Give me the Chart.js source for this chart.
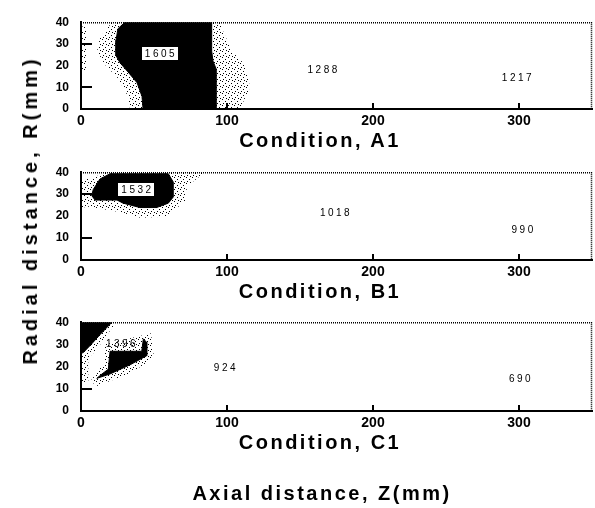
<!DOCTYPE html>
<html><head><meta charset="utf-8">
<script src="https://cdn.jsdelivr.net/npm/chart.js@4.4.1/dist/chart.umd.min.js"></script>
<style>
html,body{margin:0;padding:0;background:#fff}
body{width:595px;height:508px;position:relative;overflow:hidden;font-family:"Liberation Sans",Arial,sans-serif}
canvas{position:absolute;left:0}
.t{position:absolute;font-weight:bold;font-size:20px;line-height:20px;letter-spacing:2.5px;white-space:nowrap;color:#000;transform:translate(-50%,-50%)}
</style></head><body>
<canvas id="pA" width="595" height="156" style="top:3px"></canvas>
<canvas id="pB" width="595" height="157" style="top:153px"></canvas>
<canvas id="pC" width="595" height="158" style="top:303px"></canvas>
<script>
// ---- axes / text ----
const X_TICKS = [0, 100, 200, 300];
const Y_TICKS = [0, 10, 20, 30, 40];
const Y_INNER_TICKS = [10, 30];
const X_INNER_TICKS = [100, 200, 300];
const PANEL_TITLES = ['Condition, A1', 'Condition, B1', 'Condition, C1'];
const X_TITLE = 'Axial distance, Z(mm)';
const Y_TITLE = 'Radial distance, R(mm)';

// ---- Condition A1 (z, r) contour regions ----
const A1_CORE = [[30.1,40],[25.3,37],[24,31.7],[24,24.6],[26.7,21.3],[32.2,17.1],[38.4,12.1],[41.8,5.8],[42.5,0],[92.9,0],[92.8,12.1],[92.5,18.3],[90.4,22.1],[89.5,26.7],[89.5,40]];
const A1_HALO = [[21.2,40],[13,32.9],[11,26.7],[16.4,20.4],[25.3,14.2],[32.2,5.8],[33.6,0],[108.9,0],[115.8,10],[112.3,20.4],[103.4,26.7],[96.6,37],[95.2,40]];
const A1_EDGE = [[0,17],[4,17],[4,38],[0,38]];
const A1_VALUES = ['1605', '1288', '1217'];
const A1_VALUE_Z = [54.1, 165.5, 298.6];
const A1_VALUE_R = [25.6, 18.3, 14.2];

// ---- Condition B1 ----
const B1_CORE = [[13,36.9],[8.4,32.1],[7.3,29.4],[9.6,27.3],[24.7,27.3],[28.8,25.9],[40.4,23.9],[51.8,23.9],[59.8,25.9],[63.2,28.7],[63.2,35.5],[59.8,39.3],[19.9,39.3]];
const B1_HALO = [[15,40],[85,40],[72.7,33.6],[71.3,26.6],[57.7,19.7],[40.6,19.3],[27,21.7],[9.9,23.8],[2.4,24.6],[2.4,34.8],[9.9,37.7]];
const B1_EDGE = [[0,24],[5,24],[5,37],[0,37]];
const B1_VALUES = ['1532', '1018', '990'];
const B1_VALUE_Z = [38.0, 174.0, 302.5];
const B1_VALUE_R = [32.2, 21.3, 13.6];

// ---- Condition C1 ----
const C1_CORE_TOP = [[0,40],[21.2,40],[13,34.4],[7.4,30.3],[1.4,26.2],[0,26.2]];
const C1_CORE_MID = [[19.9,26.9],[41.6,26.9],[42.7,32.4],[45,31],[45,24.9],[33.6,20.8],[19.9,16.7],[10.8,14.7],[14.4,16.7],[18.7,18.8]];
const C1_HALO_TOP = [[0,40],[24,40],[10,27],[2,22],[0,22]];
const C1_HALO_MID = [[16,30],[48,35],[50,24],[34,17],[10,11],[7,14],[16,22]];
const C1_EDGE = [[0,13],[5,13],[5,28],[0,28]];
const C1_VALUES = ['1396', '924', '690'];
const C1_VALUE_Z = [27.4, 98.6, 300.7];
const C1_VALUE_R = [30.2, 19.7, 14.7];

// ---- stipple pattern (style) ----
const tile = document.createElement('canvas');
tile.width = 6; tile.height = 6;
const tctx = tile.getContext('2d');
tctx.fillStyle = '#000';
[[0,0],[3,2],[1,4],[4,5]].forEach(([a,b]) => tctx.fillRect(a,b,1,1));
const stipple = tctx.createPattern(tile, 'repeat');

const framePlugin = {
  id: 'frame',
  afterDatasetsDraw(chart, args, o) {
    const {ctx, chartArea: a, scales: {x, y}} = chart;
    ctx.save();
    // dotted top / right border
    ctx.strokeStyle = '#000'; ctx.lineWidth = 1.5; ctx.setLineDash([1, 1]);
    ctx.beginPath();
    ctx.moveTo(a.left, a.top + 0.5); ctx.lineTo(a.right, a.top + 0.5);
    ctx.moveTo(a.right - 0.5, a.top); ctx.lineTo(a.right - 0.5, a.bottom);
    ctx.stroke();
    ctx.setLineDash([]);
    // inward tick marks
    ctx.lineWidth = 2;
    ctx.beginPath();
    Y_INNER_TICKS.forEach(v => { const py = Math.round(y.getPixelForValue(v)); ctx.moveTo(a.left, py); ctx.lineTo(a.left + 11, py); });
    X_INNER_TICKS.forEach(v => { const px = Math.round(x.getPixelForValue(v)); ctx.moveTo(px, a.bottom); ctx.lineTo(px, a.bottom - 6); });
    ctx.stroke();
    // value labels
    ctx.font = '10px "Liberation Sans", Arial, sans-serif';
    try { ctx.letterSpacing = '2.5px'; } catch (e) {}
    ctx.textBaseline = 'middle';
    ctx.textAlign = 'left';
    o.values.forEach((t, i) => {
      const px = x.getPixelForValue(o.vz[i]), py = y.getPixelForValue(o.vr[i]);
      const w = ctx.measureText(t).width;
      if (o.boxed[i]) {
        ctx.fillStyle = '#fff';
        ctx.fillRect(Math.round(px - w / 2 - 3) + 0.5, Math.round(py - 7) + 0.5, Math.round(w + 5), 14);
        ctx.strokeStyle = '#000'; ctx.lineWidth = 1;
        ctx.strokeRect(Math.round(px - w / 2 - 3) + 0.5, Math.round(py - 7) + 0.5, Math.round(w + 5), 14);
      }
      ctx.fillStyle = '#000';
      ctx.fillText(t, px - w / 2 + 1, py + 0.5);
    });
    ctx.restore();
  }
};

const toPts = arr => arr.concat([arr[0]]).map(([x, y]) => ({x, y}));
const tickFont = (s) => ({family: '"Liberation Sans", Arial, sans-serif', size: s, weight: 'bold'});

function makePanel(id, cores, halos, values, vz, vr, boxed) {
  const datasets = [];
  cores.forEach(c => datasets.push({data: toPts(c), fill: 'shape', backgroundColor: '#000', borderColor: '#000', borderWidth: 1, pointRadius: 0, tension: 0}));
  halos.forEach(h => datasets.push({data: toPts(h), fill: 'shape', backgroundColor: stipple, borderColor: 'rgba(0,0,0,0)', borderWidth: 0, pointRadius: 0, tension: 0}));
  new Chart(document.getElementById(id), {
    type: 'line',
    data: {datasets},
    options: {
      responsive: false, animation: false, devicePixelRatio: 1,
      layout: {padding: {top: 10, right: 3, left: 0, bottom: 0}},
      plugins: {legend: {display: false}, tooltip: {enabled: false}, frame: {values, vz, vr, boxed}},
      scales: {
        x: {
          type: 'linear', min: 0, max: 350,
          afterBuildTicks: s => { s.ticks = X_TICKS.map(v => ({value: v})); },
          afterFit: s => { s.height = 50; },
          grid: {display: false, drawTicks: false, tickLength: 0},
          border: {display: true, color: '#000', width: 2},
          ticks: {color: '#000', font: tickFont(14), padding: 4, maxRotation: 0, autoSkip: false}
        },
        y: {
          type: 'linear', min: 0, max: 40,
          afterBuildTicks: s => { s.ticks = Y_TICKS.map(v => ({value: v})); },
          afterFit: s => { s.width = 81; },
          grid: {display: false, drawTicks: false, tickLength: 0},
          border: {display: true, color: '#000', width: 2},
          ticks: {color: '#000', font: tickFont(12), padding: 12, autoSkip: false}
        }
      }
    },
    plugins: [framePlugin]
  });
}

makePanel('pA', [A1_CORE], [A1_HALO, A1_EDGE], A1_VALUES, A1_VALUE_Z, A1_VALUE_R, [true, false, false]);
makePanel('pB', [B1_CORE], [B1_HALO, B1_EDGE], B1_VALUES, B1_VALUE_Z, B1_VALUE_R, [true, false, false]);
makePanel('pC', [C1_CORE_TOP, C1_CORE_MID], [C1_HALO_TOP, C1_HALO_MID, C1_EDGE], C1_VALUES, C1_VALUE_Z, C1_VALUE_R, [false, false, false]);

// ---- titles (real text) ----
function addTitle(text, cx, cy, extra) {
  const d = document.createElement('div');
  d.className = 't';
  d.textContent = text;
  d.style.left = cx + 'px';
  d.style.top = cy + 'px';
  if (extra) Object.assign(d.style, extra);
  document.body.appendChild(d);
}
[140, 291, 442].forEach((cy, i) => addTitle(PANEL_TITLES[i], 320, cy));
addTitle(X_TITLE, 322, 493);
addTitle(Y_TITLE, 30, 210, {transform: 'translate(-50%,-50%) rotate(-90deg)', letterSpacing: '4px'});
</script>
</body></html>
